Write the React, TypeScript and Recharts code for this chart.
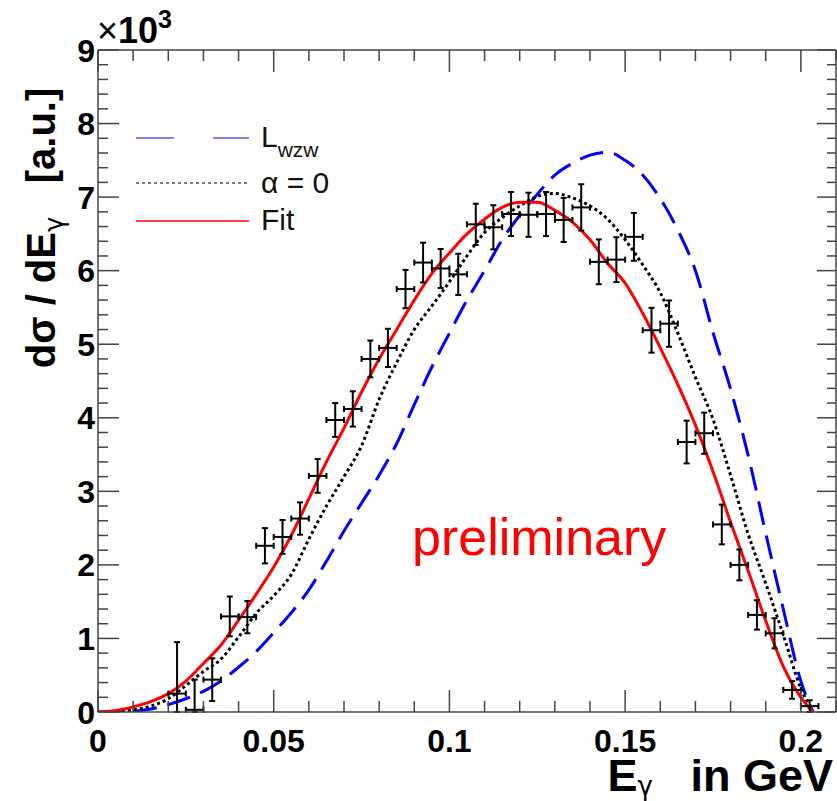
import React from "react";
import { ComposedChart, Line, Scatter, ErrorBar, XAxis, YAxis } from "recharts";

// curves sampled every 5 MeV (last point is where they reach zero)
const curveX = [
  0, 0.005, 0.01, 0.015, 0.02, 0.025, 0.03, 0.035, 0.04, 0.045, 0.05, 0.055, 0.06, 0.065,
  0.07, 0.075, 0.08, 0.085, 0.09, 0.095, 0.1, 0.105, 0.11, 0.115, 0.12, 0.125, 0.13, 0.135,
  0.14, 0.145, 0.15, 0.155, 0.16, 0.165, 0.17, 0.175, 0.18, 0.185, 0.19, 0.195, 0.2, 0.2035,
];
const fitY = [
  0, 20, 70, 140, 250, 420, 660, 910, 1250, 1600, 1970, 2400, 2900, 3400,
  3860, 4350, 4800, 5200, 5600, 5960, 6240, 6500, 6700, 6860, 6930, 6930, 6820, 6660,
  6420, 6100, 5830, 5420, 4950, 4450, 3900, 3270, 2580, 1920, 1240, 620, 200, 0,
];
const alphaZeroY = [
  0, 10, 30, 80, 180, 360, 550, 720, 1020, 1340, 1580, 1870, 2350, 2800,
  3200, 3620, 4250, 4750, 5200, 5520, 5850, 6200, 6520, 6720, 6880, 7010, 7050, 6990,
  6880, 6700, 6420, 6080, 5700, 5150, 4550, 3980, 3220, 2420, 1750, 1050, 320, 0,
];
const wzwY = [
  0, 0, 10, 40, 100, 180, 280, 420, 610, 820, 1080, 1350, 1660, 2050,
  2460, 2840, 3220, 3650, 4180, 4690, 5150, 5600, 6000, 6420, 6750, 7040, 7300, 7460,
  7570, 7610, 7500, 7300, 6980, 6550, 6000, 5160, 4390, 3490, 2430, 1400, 420, 0,
];

// measured spectrum
const pointX = [
  0.0225, 0.0275, 0.0325, 0.0375, 0.0425, 0.0475, 0.0525, 0.0575, 0.0625, 0.0675,
  0.0725, 0.0775, 0.0825, 0.0875, 0.0925, 0.0975, 0.1025, 0.1075, 0.1125, 0.1175,
  0.1225, 0.1275, 0.1325, 0.1375, 0.1425, 0.1475, 0.1525, 0.1575, 0.1625, 0.1675,
  0.1725, 0.1775, 0.1825, 0.1875, 0.1925, 0.1975, 0.2025,
];
const pointY = [
  250, 30, 440, 1300, 1290, 2260, 2380, 2630, 3210, 3970,
  4120, 4800, 4950, 5750, 6110, 6030, 5950, 6630, 6590, 6770,
  6760, 6770, 6690, 6860, 6120, 6150, 6460, 5190, 5280, 3670,
  3790, 2550, 2000, 1320, 1070, 300, 80,
];
const pointErr = [
  700, 410, 290, 270, 220, 240, 230, 220, 230, 230,
  240, 250, 260, 260, 270, 265, 280, 280, 300, 300,
  300, 300, 300, 315, 305, 305, 325, 305, 315, 290,
  280, 270, 210, 200, 205, 120, 80,
];
const binHalfWidth = 0.0025;

const xTicks = [
  0, 0.01, 0.02, 0.03, 0.04, 0.05, 0.06, 0.07, 0.08, 0.09, 0.1,
  0.11, 0.12, 0.13, 0.14, 0.15, 0.16, 0.17, 0.18, 0.19, 0.2, 0.21,
];
const xLabelTicks = [0, 0.05, 0.1, 0.15, 0.2];
const xLabels = ["0", "0.05", "0.1", "0.15", "0.2"];
const yTicks = Array.from({ length: 46 }, (_, i) => i * 200);
const yLabelTicks = [0, 1000, 2000, 3000, 4000, 5000, 6000, 7000, 8000, 9000];
const yLabels = ["0", "1", "2", "3", "4", "5", "6", "7", "8", "9"];

const FONT = "'Liberation Sans', Arial, Helvetica, sans-serif";
const GREEK = "'DejaVu Sans', sans-serif";
const FRAME = "#444";

const fitData = curveX.map((x, i) => ({ x, y: fitY[i] }));
const alphaData = curveX.map((x, i) => ({ x, y: alphaZeroY[i] }));
const wzwData = curveX.map((x, i) => ({ x, y: wzwY[i] }));
const points = pointX.map((x, i) => ({
  x,
  y: pointY[i],
  ey: [Math.min(pointErr[i], pointY[i]), pointErr[i]],
  ex: binHalfWidth,
}));

const labelIndex = (list: number[], v: number) =>
  list.findIndex((t) => Math.abs(t - v) < 1e-9);

function BottomTick(props: any) {
  const { x, y, payload } = props;
  const idx = labelIndex(xLabelTicks, payload.value);
  const major = idx >= 0;
  return (
    <g>
      <line x1={x} x2={x} y1={y} y2={y - (major ? 22 : 11)} stroke={FRAME} strokeWidth={1.5} />
      {major && (
        <text x={x} y={y + 40} textAnchor="middle" fontFamily={FONT} fontWeight="bold" fontSize={32} fill="#000">
          {xLabels[idx]}
        </text>
      )}
    </g>
  );
}

function TopTick(props: any) {
  const { x, y, payload } = props;
  const major = labelIndex(xLabelTicks, payload.value) >= 0;
  return <line x1={x} x2={x} y1={y} y2={y + (major ? 22 : 11)} stroke={FRAME} strokeWidth={1.5} />;
}

function LeftTick(props: any) {
  const { x, y, payload } = props;
  const idx = labelIndex(yLabelTicks, payload.value);
  const major = idx >= 0;
  return (
    <g>
      <line x1={x} x2={x + (major ? 21 : 10)} y1={y} y2={y} stroke={FRAME} strokeWidth={1.5} />
      {major && (
        <text x={x - 3} y={y + 11.5} textAnchor="end" fontFamily={FONT} fontWeight="bold" fontSize={32} fill="#000">
          {yLabels[idx]}
        </text>
      )}
    </g>
  );
}

function RightTick(props: any) {
  const { x, y, payload } = props;
  const major = labelIndex(yLabelTicks, payload.value) >= 0;
  return <line x1={x} x2={x - (major ? 19 : 9)} y1={y} y2={y} stroke={FRAME} strokeWidth={1.5} />;
}

export default function App() {
  return (
    <div style={{ position: "absolute", left: 0, top: 0, width: 837, height: 801, background: "#fff" }}>
      <ComposedChart width={837} height={801} margin={{ top: 49, right: 0, bottom: 0, left: 0 }}>
        <XAxis
          dataKey="x"
          type="number"
          domain={[0, 0.21]}
          allowDataOverflow
          ticks={xTicks}
          interval={0}
          height={89}
          tickSize={0}
          tickMargin={0}
          tickLine={false}
          axisLine={{ stroke: FRAME, strokeWidth: 1.5 }}
          tick={<BottomTick />}
        />
        <XAxis
          xAxisId="top"
          orientation="top"
          dataKey="x"
          type="number"
          domain={[0, 0.21]}
          allowDataOverflow
          ticks={xTicks}
          interval={0}
          height={1}
          tickSize={0}
          tickMargin={0}
          tickLine={false}
          axisLine={{ stroke: FRAME, strokeWidth: 1.5 }}
          tick={<TopTick />}
        />
        <YAxis
          type="number"
          domain={[0, 9000]}
          allowDataOverflow
          ticks={yTicks}
          interval={0}
          width={98}
          tickSize={0}
          tickMargin={0}
          tickLine={false}
          axisLine={{ stroke: FRAME, strokeWidth: 1.5 }}
          tick={<LeftTick />}
        />
        <YAxis
          yAxisId="right"
          orientation="right"
          type="number"
          domain={[0, 9000]}
          allowDataOverflow
          ticks={yTicks}
          interval={0}
          width={1}
          tickSize={0}
          tickMargin={0}
          tickLine={false}
          axisLine={{ stroke: FRAME, strokeWidth: 1.5 }}
          tick={<RightTick />}
        />
        <Line
          data={wzwData}
          dataKey="y"
          type="monotone"
          stroke="#0000ff"
          strokeWidth={3}
          strokeDasharray="24 11"
          dot={false}
          isAnimationActive={false}
        />
        <Line
          data={alphaData}
          dataKey="y"
          type="monotone"
          stroke="#000"
          strokeWidth={3}
          strokeDasharray="3 3"
          dot={false}
          isAnimationActive={false}
        />
        <Line
          data={fitData}
          dataKey="y"
          type="monotone"
          stroke="#ff0000"
          strokeWidth={3}
          dot={false}
          isAnimationActive={false}
        />
        <Scatter data={points} dataKey="y" shape={() => <g />} isAnimationActive={false}>
          <ErrorBar dataKey="ey" direction="y" width={3} stroke="#000" strokeWidth={2} />
          <ErrorBar dataKey="ex" direction="x" width={3} stroke="#000" strokeWidth={2} />
        </Scatter>
      </ComposedChart>

      <svg
        width={837}
        height={801}
        style={{ position: "absolute", left: 0, top: 0, pointerEvents: "none" }}
        fontFamily={FONT}
      >
        {/* exponent of the y axis */}
        <text x={97} y={43} fontSize={36} fill="#000">
          ×<tspan fontWeight="bold">10</tspan>
          <tspan fontWeight="bold" fontSize={25} dy={-15}>3</tspan>
        </text>

        {/* y axis title */}
        <text
          transform="translate(55,228) rotate(-90)"
          textAnchor="middle"
          fontWeight="bold"
          fontSize={40}
          fill="#000"
          style={{ whiteSpace: "pre" }}
        >
          dσ / dE<tspan fontFamily={GREEK} fontWeight="normal" fontSize={26} dy={8}>γ</tspan>
          <tspan dy={-8}>{"   [a.u.]"}</tspan>
        </text>

        {/* x axis title */}
        <text x={833} y={791} textAnchor="end" fontWeight="bold" fontSize={45} fill="#000" style={{ whiteSpace: "pre" }}>
          E<tspan fontFamily={GREEK} fontWeight="normal" fontSize={26} dy={4}>γ</tspan>
          <tspan dy={-4}>{"   in GeV"}</tspan>
        </text>

        <text x={412} y={555} fontSize={52} fill="#ff0000">
          preliminary
        </text>

        {/* legend */}
        <line x1={136} x2={249} y1={138} y2={138} stroke="#0000ff" strokeWidth={1.2} strokeDasharray="38 39" />
        <text x={261} y={147} fontSize={30} fill="#111">
          L<tspan fontSize={21} dy={10}>wzw</tspan>
        </text>
        <line x1={136} x2={249} y1={183} y2={183} stroke="#000" strokeWidth={1.2} strokeDasharray="3 3" />
        <text x={261} y={193} fontSize={30} fill="#111">
          α = 0
        </text>
        <line x1={136} x2={249} y1={221} y2={221} stroke="#ff0000" strokeWidth={1.5} />
        <text x={261} y={230} fontSize={30} fill="#111">
          Fit
        </text>
      </svg>
    </div>
  );
}
